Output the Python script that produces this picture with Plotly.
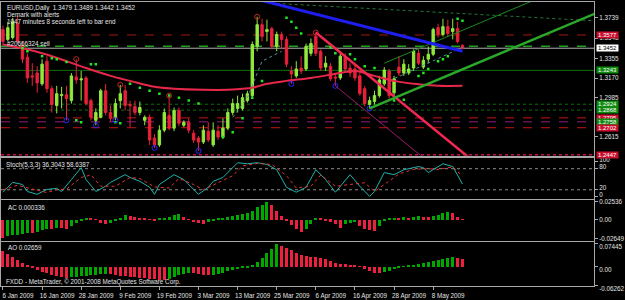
import plotly.graph_objects as go
from plotly.subplots import make_subplots

# ---------------- data ----------------
tick_bars = [0, 8, 16, 24, 32, 40, 48, 56, 64, 72, 80, 88]
tick_labels = ["6 Jan 2009", "16 Jan 2009", "28 Jan 2009", "9 Feb 2009", "19 Feb 2009",
               "3 Mar 2009", "13 Mar 2009", "25 Mar 2009", "6 Apr 2009", "16 Apr 2009",
               "28 Apr 2009", "8 May 2009"]
price_ticks = [1.3739, 1.3548, 1.3355, 1.3170, 1.2985, 1.2615]

opens = [1.3628, 1.3535, 1.3553, 1.3683, 1.3479, 1.3367, 1.3191, 1.3218, 1.3116, 1.3330,
         1.3070, 1.2912, 1.3005, 1.3014, 1.2958, 1.3181, 1.3153, 1.3172, 1.2958, 1.2772,
         1.2800, 1.3051, 1.2846, 1.2800, 1.2958, 1.3051, 1.2921, 1.2902, 1.2846, 1.2772,
         1.2800, 1.2605, 1.2540, 1.2679, 1.2819, 1.2698, 1.2865, 1.2725, 1.2753, 1.2651,
         1.2605, 1.2567, 1.2670, 1.2540, 1.2670, 1.2614, 1.2698, 1.2846, 1.2884, 1.2884,
         1.2958, 1.3005, 1.3470, 1.3674, 1.3609, 1.3637, 1.3470, 1.3581, 1.3535, 1.3237,
         1.3191, 1.3265, 1.3256, 1.3404, 1.3563, 1.3423, 1.3274, 1.3283, 1.3181, 1.3172,
         1.3367, 1.3265, 1.3256, 1.3191, 1.3070, 1.2921, 1.2949, 1.3005, 1.3116, 1.3237,
         1.3032, 1.3274, 1.3218, 1.3218, 1.3265, 1.3404, 1.3274, 1.3349, 1.3395, 1.3646,
         1.3581, 1.3656, 1.3609, 1.3637, 1.3479]
highs = [1.3665, 1.3702, 1.3739, 1.3758, 1.3516, 1.3404, 1.3311, 1.3283, 1.3349, 1.3377,
         1.3097, 1.3097, 1.3088, 1.3097, 1.3218, 1.3349, 1.3237, 1.3191, 1.2977, 1.2884,
         1.3070, 1.3116, 1.2912, 1.2977, 1.3107, 1.3107, 1.2958, 1.2958, 1.2949, 1.2819,
         1.2828, 1.2642, 1.2725, 1.2884, 1.3005, 1.2893, 1.2893, 1.2772, 1.2791, 1.2679,
         1.2623, 1.2725, 1.2753, 1.2753, 1.2725, 1.2791, 1.2884, 1.2977, 1.3005, 1.3023,
         1.3051, 1.3516, 1.3749, 1.3730, 1.3721, 1.3656, 1.3609, 1.3609, 1.3563, 1.3283,
         1.3330, 1.3377, 1.3497, 1.3544, 1.3600, 1.3442, 1.3377, 1.3311, 1.3209, 1.3404,
         1.3404, 1.3311, 1.3302, 1.3218, 1.3097, 1.2995, 1.3051, 1.3191, 1.3274, 1.3256,
         1.3191, 1.3377, 1.3349, 1.3302, 1.3442, 1.3442, 1.3377, 1.3470, 1.3646, 1.3683,
         1.3730, 1.3721, 1.3730, 1.3702, 1.3489]
lows = [1.3479, 1.3516, 1.3535, 1.3497, 1.3311, 1.3125, 1.3097, 1.3032, 1.3097, 1.3032,
        1.2846, 1.2837, 1.2884, 1.2772, 1.2930, 1.3116, 1.2958, 1.2912, 1.2772, 1.2725,
        1.2791, 1.2819, 1.2763, 1.2772, 1.2884, 1.2865, 1.2707, 1.2819, 1.2819, 1.2725,
        1.2540, 1.2512, 1.2521, 1.2660, 1.2679, 1.2670, 1.2716, 1.2707, 1.2651, 1.2558,
        1.2484, 1.2549, 1.2567, 1.2521, 1.2586, 1.2595, 1.2679, 1.2819, 1.2846, 1.2865,
        1.2939, 1.2986, 1.3423, 1.3516, 1.3516, 1.3442, 1.3423, 1.3442, 1.3274, 1.3116,
        1.3172, 1.3209, 1.3237, 1.3377, 1.3377, 1.3237, 1.3237, 1.3144, 1.3097, 1.3153,
        1.3218, 1.3181, 1.3144, 1.3005, 1.2902, 1.2884, 1.2921, 1.2986, 1.3097, 1.2977,
        1.3005, 1.3191, 1.3191, 1.3200, 1.3237, 1.3293, 1.3256, 1.3311, 1.3377, 1.3553,
        1.3563, 1.3563, 1.3535, 1.3497, 1.3442]
closes = [1.3516, 1.3646, 1.3702, 1.3516, 1.3349, 1.3172, 1.3181, 1.3125, 1.3302, 1.3070,
          1.2921, 1.3023, 1.3014, 1.2977, 1.3191, 1.3153, 1.3163, 1.2930, 1.2800, 1.2846,
          1.3051, 1.2846, 1.2791, 1.2930, 1.3023, 1.2912, 1.2912, 1.2846, 1.2893, 1.2800,
          1.2586, 1.2540, 1.2679, 1.2846, 1.2698, 1.2865, 1.2744, 1.2753, 1.2679, 1.2586,
          1.2567, 1.2679, 1.2586, 1.2679, 1.2614, 1.2698, 1.2846, 1.2930, 1.2930, 1.2986,
          1.3023, 1.3488, 1.3674, 1.3563, 1.3628, 1.3470, 1.3581, 1.3535, 1.3302, 1.3209,
          1.3256, 1.3237, 1.3470, 1.3497, 1.3404, 1.3265, 1.3311, 1.3163, 1.3172, 1.3377,
          1.3256, 1.3218, 1.3172, 1.3023, 1.2930, 1.2958, 1.3005, 1.3153, 1.3246, 1.3005,
          1.3163, 1.3218, 1.3302, 1.3256, 1.3423, 1.3311, 1.3339, 1.3395, 1.3628, 1.3581,
          1.3656, 1.3590, 1.3637, 1.3516, 1.3452]

ma_bars = [0, 4, 8, 13, 17, 22, 26, 31, 35, 41, 46, 49, 51, 54, 58, 63, 69, 72, 76, 80, 84, 89, 94]
ma_vals = [1.3488, 1.3451, 1.3404, 1.3330, 1.3265, 1.3191, 1.3144, 1.3088, 1.3070, 1.3060,
           1.3060, 1.3070, 1.3079, 1.3116, 1.3144, 1.3172, 1.3218, 1.3237, 1.3191, 1.3144,
           1.3116, 1.3097, 1.3097]

sar_bars = [4, 5, 8, 10, 11, 13, 15, 16, 18, 19, 23, 24, 26, 28, 30, 32, 34, 36, 38, 40,
            45, 47, 49, 51, 53, 58, 59, 60, 61, 67, 68, 71, 72, 74, 76, 80, 82, 85, 86, 87,
            89, 90, 91, 93, 94]
sar_vals = [1.3451, 1.3423, 1.3377, 1.3358, 1.3349, 1.3321, 1.2772, 1.2753, 1.3302, 1.3302,
            1.2753, 1.2744, 1.3116, 1.3079, 1.3051, 1.3023, 1.3005, 1.2986, 1.2958, 1.2930,
            1.2614, 1.2660, 1.2791, 1.2986, 1.3144, 1.3739, 1.3702, 1.3646, 1.3590, 1.3460,
            1.3404, 1.3395, 1.3349, 1.3283, 1.3265, 1.2958, 1.2967, 1.3191, 1.3218, 1.3256,
            1.3330, 1.3349, 1.3377, 1.3730, 1.3711]

fractal_up_bars = [15, 24, 34, 52, 64]
fractal_down_bars = [13, 19, 23, 31, 40, 59, 68, 75]

blue_line_bars, blue_line_vals = [52, 94], [1.3913, 1.3423]
red_line_bars, red_line_vals = [64, 96], [1.3600, 1.2395]
purple_line_bars, purple_line_vals = [68, 88], [1.3097, 1.2344]
green_line_bars, green_line_vals = [75, 122], [1.2884, 1.3796]
green_thin_bars, green_thin_vals = [78, 110], [1.3311, 1.3932]
green_dot_bars, green_dot_vals = [56, 121], [1.3874, 1.3711]
dotted1_bars, dotted1_vals = [47, 50, 53, 57], [1.2800, 1.2986, 1.3330, 1.3423]
dotted2_bars, dotted2_vals = [79, 94], [1.3144, 1.3460]

level_prices = [1.3577, 1.3470, 1.3452, 1.3243, 1.2924, 1.2868, 1.2795, 1.2758, 1.2702, 1.2447]
label_prices = [1.3577, 1.3452, 1.3243, 1.2924, 1.2868, 1.2795, 1.2758, 1.2702, 1.2447]

stoch_bars = [0, 2, 4, 5, 7, 9, 11, 12, 14, 16, 17, 19, 21, 22, 25, 26, 28, 30, 31, 32,
              35, 37, 40, 42, 43, 45, 48, 50, 52, 54, 56, 58, 60, 62, 64, 66, 68, 71, 73, 75,
              76, 78, 80, 82, 85, 86, 87, 90, 92, 94]
stoch_main = [13, 41, 35, 15, 7, 21, 24, 15, 49, 83, 49, 15, 30, 41, 63, 55, 44, 27, 7, 35,
              63, 49, 7, 27, 44, 55, 97, 94, 97, 92, 77, 27, 13, 27, 77, 49, 13, 63, 30, 1,
              15, 69, 63, 77, 86, 83, 69, 94, 86, 36.3043]
signal_bars = [0, 3, 6, 9, 11, 13, 16, 18, 20, 23, 26, 28, 31, 34, 36, 39, 41, 44, 47, 49,
               52, 55, 58, 60, 63, 65, 68, 71, 74, 76, 79, 81, 84, 87, 89, 92, 94]
stoch_signal = [20, 33, 22, 12, 20, 22, 55, 62, 30, 30, 55, 52, 28, 25, 52, 35, 20, 40, 60, 88,
                95, 92, 60, 25, 30, 62, 30, 35, 40, 15, 45, 65, 78, 80, 78, 85, 58.6387]

ac_vals = [-0.0264, -0.0236, -0.0222, -0.0209, -0.0195, -0.0181, -0.0188, -0.0167, -0.0139, -0.0125,
           -0.0132, -0.0111, -0.0118, -0.0125, -0.0083, -0.0042, -0.0014, 0.0021, 0.0014, 0.0007,
           -0.0042, -0.0056, -0.0042, -0.0014, 0.0028, 0.0063, 0.0056, 0.0042, 0.0028, 0.0021,
           0.0007, -0.0021, 0.0014, 0.0021, 0.0042, 0.0063, 0.0083, 0.0035, 0.0003, -0.0035,
           -0.0049, -0.0056, -0.0028, -0.0014, 0.0014, 0.0028, 0.0042, 0.0056, 0.0070, 0.0083,
           0.0097, 0.0125, 0.0181, 0.0209, 0.0254, 0.0209, 0.0125, 0.0056, -0.0014, -0.0070,
           -0.0125, -0.0167, -0.0125, -0.0056, 0.0021, 0.0014, -0.0007, -0.0028, -0.0056, -0.0111,
           -0.0056, -0.0042, -0.0035, -0.0083, -0.0125, -0.0139, -0.0153, -0.0083, -0.0014, 0.0014,
           0.0028, 0.0021, 0.0035, 0.0028, 0.0042, 0.0049, 0.0042, 0.0035, 0.0056, 0.0070,
           0.0090, 0.0104, 0.0097, 0.0035, 0.000336]
ao_vals = [0.0512, 0.0416, 0.0320, 0.0224, 0.0128, 0.0048, -0.0032, -0.0096, -0.0160, -0.0208,
           -0.0256, -0.0304, -0.0336, -0.0352, -0.0336, -0.0320, -0.0304, -0.0288, -0.0272, -0.0256,
           -0.0240, -0.0224, -0.0240, -0.0256, -0.0288, -0.0304, -0.0320, -0.0336, -0.0352, -0.0368,
           -0.0384, -0.0400, -0.0416, -0.0432, -0.0384, -0.0320, -0.0256, -0.0224, -0.0192, -0.0208,
           -0.0224, -0.0256, -0.0272, -0.0256, -0.0224, -0.0192, -0.0144, -0.0112, -0.0080, -0.0048,
           -0.0016, 0.0064, 0.0160, 0.0288, 0.0448, 0.0576, 0.0745, 0.0672, 0.0608, 0.0544,
           0.0448, 0.0384, 0.0352, 0.0336, 0.0320, 0.0288, 0.0256, 0.0192, 0.0144, 0.0112,
           0.0096, 0.0080, 0.0048, 0.0016, -0.0064, -0.0128, -0.0192, -0.0208, -0.0176, -0.0128,
           -0.0080, -0.0032, 0.0016, 0.0048, 0.0080, 0.0112, 0.0144, 0.0176, 0.0208, 0.0240,
           0.0272, 0.0298, 0.0314, 0.0288, 0.02659]

# ---------------- figure ----------------
bars = list(range(len(opens)))
BULL, BEAR = "#92E83E", "#E8203A"
HG, HR = "#00A800", "#EE2040"
TXT = "#E4E4E4"
BORDER = "#A8A8A8"
FONT = "Liberation Sans"

fig = make_subplots(rows=4, cols=1, shared_xaxes=True, vertical_spacing=0.0)

level_styles = [("#A01818", "dash", 1), ("#1FA01F", "dash", 1.6), ("#B0B0B0", "solid", 1),
                ("#0E6E0E", "solid", 1), ("#0E6E0E", "dot", 1), ("#0E6E0E", "dot", 1),
                ("#C81414", "dash", 1), ("#8B2080", "dash", 1), ("#C81414", "dash", 1),
                ("#FF1060", "dot", 1.2)]
for p, (c, d, w) in zip(level_prices, level_styles):
    fig.add_shape(type="line", xref="x domain", yref="y", x0=0, x1=1, y0=p, y1=p,
                  line=dict(color=c, dash=d, width=w), layer="below")

for bx, by in [(dotted1_bars, dotted1_vals), (dotted2_bars, dotted2_vals)]:
    fig.add_trace(go.Scatter(x=bx, y=by, mode="lines", line=dict(color="#4F8F9A", width=1, dash="dot"),
                             hoverinfo="skip", showlegend=False), row=1, col=1)

fig.add_trace(go.Candlestick(x=bars, open=opens, high=highs, low=lows, close=closes,
                             increasing=dict(line=dict(color=BULL, width=1), fillcolor=BULL),
                             decreasing=dict(line=dict(color=BEAR, width=1), fillcolor=BEAR),
                             whiskerwidth=0, hoverinfo="skip", showlegend=False), row=1, col=1)

fig.add_trace(go.Scatter(x=ma_bars, y=ma_vals, mode="lines", line=dict(color="#E8284A", width=2, shape="spline"),
                         hoverinfo="skip", showlegend=False), row=1, col=1)

fig.add_trace(go.Scatter(x=sar_bars, y=sar_vals, mode="markers",
                         marker=dict(color="#22E822", size=2.5, symbol="square"),
                         hoverinfo="skip", showlegend=False), row=1, col=1)

fig.add_trace(go.Scatter(x=fractal_up_bars, y=[highs[i] for i in fractal_up_bars], mode="markers",
                         marker=dict(symbol="circle-open", color="#C02828", size=5, line=dict(width=1)),
                         hoverinfo="skip", showlegend=False), row=1, col=1)
fig.add_trace(go.Scatter(x=fractal_down_bars, y=[lows[i] for i in fractal_down_bars], mode="markers",
                         marker=dict(symbol="circle-open", color="#2828FF", size=5, line=dict(width=1)),
                         hoverinfo="skip", showlegend=False), row=1, col=1)

trend = [(green_dot_bars, green_dot_vals, "#1F7A3A", 1, "dot"),
         (green_thin_bars, green_thin_vals, "#1E8A1E", 1, "solid"),
         (purple_line_bars, purple_line_vals, "#9A1E6A", 1, "solid"),
         (blue_line_bars, blue_line_vals, "#1E1EF0", 3, "solid"),
         (red_line_bars, red_line_vals, "#F02850", 2.5, "solid"),
         (green_line_bars, green_line_vals, "#2AA82A", 2.5, "solid")]
for bx, by, c, w, d in trend:
    fig.add_trace(go.Scatter(x=bx, y=by, mode="lines", line=dict(color=c, width=w, dash=d),
                             hoverinfo="skip", showlegend=False), row=1, col=1)

fig.add_trace(go.Scatter(x=stoch_bars, y=stoch_main, mode="lines", line=dict(color="#20B2AA", width=1),
                         hoverinfo="skip", showlegend=False), row=2, col=1)
fig.add_trace(go.Scatter(x=signal_bars, y=stoch_signal, mode="lines", line=dict(color="#E83030", width=1, dash="dot"),
                         hoverinfo="skip", showlegend=False), row=2, col=1)
for lv in (80, 20):
    fig.add_shape(type="line", xref="x2 domain", yref="y2", x0=0, x1=1, y0=lv, y1=lv,
                  line=dict(color="#8A8A8A", dash="dot", width=1), layer="below")

def hist_colors(vals):
    cols = [HR]
    for i in range(1, len(vals)):
        cols.append(HG if vals[i] > vals[i - 1] else HR)
    return cols

fig.add_trace(go.Bar(x=bars, y=ac_vals, marker=dict(color=hist_colors(ac_vals), line=dict(width=0)),
                     width=0.6, hoverinfo="skip", showlegend=False), row=3, col=1)
fig.add_trace(go.Bar(x=bars, y=ao_vals, marker=dict(color=hist_colors(ao_vals), line=dict(width=0)),
                     width=0.6, hoverinfo="skip", showlegend=False), row=4, col=1)

PH = 289.0
def dom(top, bot):
    return [(PH - bot) / PH, (PH - top) / PH]

axis_common = dict(showgrid=False, zeroline=False, showline=True, mirror=True,
                   linecolor=BORDER, linewidth=1)
for i in range(1, 5):
    fig.update_xaxes(range=[-0.4, 120.9], rangeslider_visible=False, **axis_common, row=i, col=1)
    fig.update_yaxes(side="right", ticks="outside", ticklen=3, tickcolor=BORDER,
                     tickfont=dict(family=FONT, size=6.3, color=TXT), **axis_common, row=i, col=1)
for i in range(1, 4):
    fig.update_xaxes(showticklabels=False, ticks="", row=i, col=1)
fig.update_xaxes(tickmode="array", tickvals=tick_bars, ticktext=tick_labels, ticks="outside",
                 ticklen=3, tickcolor=BORDER, tickfont=dict(family=FONT, size=6.3, color=TXT),
                 ticklabelshift=15, row=4, col=1)

fig.update_layout(
    yaxis=dict(domain=dom(0, 156), range=[1.2437, 1.3888], tickmode="array",
               tickvals=price_ticks, tickformat=".4f"),
    yaxis2=dict(domain=dom(158, 200), range=[-7, 111], tickmode="array", ticklabelshift=-2,
                tickvals=[100, 80, 20, 0], ticktext=["100", "80", "20", "0"]),
    yaxis3=dict(domain=dom(201, 242), range=[-0.0292, 0.0278], tickmode="array",
                tickvals=[0.02536, 0, -0.02649], ticktext=["0.02536", "0.00", "-0.02649"]),
    yaxis4=dict(domain=dom(243, 288), range=[-0.063, 0.081], tickmode="array", ticklabelshift=3,
                tickvals=[0.07445, 0, -0.06262], ticktext=["0.07445", "0.00", "-0.06262"]),
)

texts = [("EURUSD,Daily  1.3479 1.3489 1.3442 1.3452", 4, 6),
         ("Demark with alerts", 4, 13),
         ("1047 minutes 8 seconds left to bar end", 4, 20),
         ("#20666324 sell", 4, 42),
         ("Stoch(5,3,3) 36.3043 58.6387", 3, 165),
         ("AC 0.000336", 5, 208),
         ("AO 0.02659", 5, 249),
         ("FXDD - MetaTrader, © 2001-2008 MetaQuotes Software Corp.", 3, 284)]
for t, px, py in texts:
    fig.add_annotation(text=t, x=px / 601.0, y=(PH - py) / PH, xref="paper", yref="paper",
                       xanchor="left", yanchor="middle", showarrow=False,
                       font=dict(family=FONT, size=6.3, color=TXT))

label_styles = [("#C8102E", "#FFFFFF"), ("#FFFFFF", "#000000"), ("#108A10", "#FFFFFF"),
                ("#108A10", "#FFFFFF"), ("#108A10", "#FFFFFF"), ("#C8102E", "#FFFFFF"),
                ("#108A10", "#FFFFFF"), ("#C8102E", "#FFFFFF"), ("#C8102E", "#FFFFFF")]
for p, (bg, fc) in zip(label_prices, label_styles):
    fig.add_annotation(text=f"{p:.4f}", x=1, xref="paper", y=p, yref="y", xanchor="left",
                       yanchor="middle", xshift=2, showarrow=False, bgcolor=bg, borderpad=0,
                       width=21, height=6, font=dict(family=FONT, size=6, color=fc))

fig.update_layout(width=625, height=300, margin=dict(l=0, r=24, t=0, b=11),
                  paper_bgcolor="#000000", plot_bgcolor="#000000", showlegend=False,
                  bargap=0, hovermode=False)

fig.write_html("out.html")
